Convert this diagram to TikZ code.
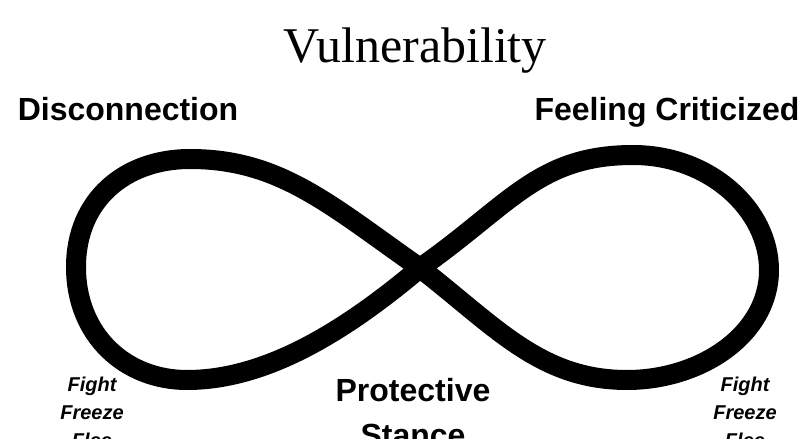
\documentclass[tikz,border=0pt]{standalone}
\usepackage{fontspec}
\setmainfont{Liberation Serif}
\newfontfamily\sansbold{Liberation Sans}[BoldFont={Liberation Sans Bold}]
\begin{document}
\begin{tikzpicture}[x=1pt, y=-1pt,
  titletext/.style={inner sep=0pt, font=\fontsize{50}{56}\selectfont},
  headtext/.style={inner sep=0pt, font=\sansbold\bfseries\fontsize{32}{45}\selectfont, align=center},
  reacttext/.style={inner sep=0pt, font=\sansbold\bfseries\itshape\fontsize{20}{28}\selectfont, align=center},
  loopline/.style={line width=20pt, line join=round, line cap=round}]
\useasboundingbox (0,0) rectangle (807,439);
% the infinity loop
\coordinate (cross) at (420,268);
\coordinate (ltop) at (190,159);
\coordinate (lleft) at (76,267);
\coordinate (lbot) at (187,380);
\coordinate (rtop) at (633,155);
\coordinate (rright) at (769,270);
\coordinate (rbot) at (627,380);
\draw[loopline] (cross) .. controls (330,205) and (280,159) .. (ltop)
  .. controls (125,159) and (76,200) .. (lleft)
  .. controls (76,335) and (125,380) .. (lbot)
  .. controls (270,380) and (351,326) .. (cross)
  .. controls (510,205) and (538,155) .. (rtop)
  .. controls (710,155) and (769,210) .. (rright)
  .. controls (769,335) and (700,380) .. (rbot)
  .. controls (540,380) and (495,326) .. cycle;
% labels
\node (vuln) [titletext, anchor=base] at (415,62) {Vulnerability};
\node (disc) [headtext, anchor=base] at (128,120) {Disconnection};
\node (crit) [headtext, anchor=base] at (667,120) {Feeling Criticized};
\node (stance) [headtext, anchor=north] at (413,378) {Protective\\Stance};
\node (leftfff) [reacttext, anchor=north] at (92,377) {Fight\\Freeze\\Flee};
\node (rightfff) [reacttext, anchor=north] at (745,377) {Fight\\Freeze\\Flee};
\end{tikzpicture}
\end{document}
